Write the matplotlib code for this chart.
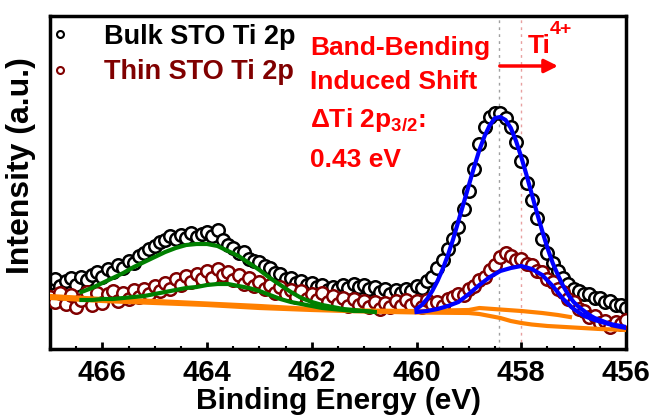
import numpy as np
import matplotlib.pyplot as plt
from matplotlib.lines import Line2D

plt.rcParams['font.family'] = ['Liberation Sans', 'DejaVu Sans']
plt.rcParams['font.weight'] = 'bold'
plt.rcParams['mathtext.fontset'] = 'custom'
plt.rcParams['mathtext.rm'] = 'Liberation Sans:bold'
plt.rcParams['mathtext.bf'] = 'Liberation Sans:bold'

# measured data, 0.1 eV steps from 467.0 down to 456.0
energy = np.round(np.arange(467.0, 455.95, -0.1), 1)
bulk = [66, 70, 63, 68, 71, 64, 72, 69, 74, 77,
        72, 80, 77, 84, 81, 88, 86, 93, 96, 100,
        103, 107, 109, 113, 110, 114, 111, 116, 112, 115,
        117, 113, 119, 109, 104, 101, 96, 97, 90, 88,
        87, 83, 81, 76, 75, 70, 71, 66, 68, 64,
        66, 62, 64, 59, 62, 60, 64, 61, 65, 62,
        64, 60, 62, 57, 60, 55, 59, 56, 60, 58,
        63, 61, 68, 72, 81, 89, 100, 110, 122, 140,
        158, 180, 205, 222, 232, 236, 236, 231, 222, 207,
        188, 166, 149, 131, 110, 96, 86, 78, 71, 65,
        60, 58, 55, 55, 51, 51, 47, 48, 44, 44,
        41]
thin = [52, 47, 56, 45, 54, 42, 49, 57, 44, 56,
        46, 55, 58, 48, 56, 50, 59, 52, 60, 55,
        63, 58, 66, 60, 70, 64, 73, 67, 75, 70,
        78, 71, 80, 74, 77, 69, 74, 65, 71, 63,
        67, 60, 64, 56, 62, 55, 59, 52, 58, 50,
        55, 49, 56, 47, 53, 45, 51, 43, 50, 44,
        48, 42, 47, 40, 46, 42, 48, 43, 49, 44,
        48, 42, 49, 45, 47, 43, 50, 52, 55, 54,
        60, 63, 69, 72, 79, 84, 92, 96, 93, 89,
        90, 85, 84, 78, 77, 70, 67, 60, 57, 50,
        47, 40, 38, 32, 33, 26, 28, 22, 27, 25,
        29]

# fitted components
fit_e1 = np.round(np.arange(466.4, 460.75, -0.2), 1)
bulk_p12 = [57, 61, 66, 71, 76, 82, 87, 92, 97, 101, 104, 105, 105, 103,
            98, 93, 86, 79, 71, 64, 57, 51, 47, 44, 42, 40, 39, 38, 37]
thin_p12 = [49, 49, 50, 50, 51, 52, 53, 55, 57, 59, 61, 62, 64, 65,
            65, 63, 61, 58, 54, 50, 47, 45, 43, 41, 40, 39, 38, 38, 37]

fit_e2 = np.round(np.arange(460.0, 455.95, -0.1), 1)
bulk_p32 = [40, 44, 50, 58, 68, 80, 94, 110, 128, 146,
            164, 182, 199, 213, 224, 231, 232, 229, 221, 208,
            192, 174, 155, 136, 118, 101, 86, 74, 63, 54,
            47, 42, 38, 34, 31, 29, 27, 25, 24, 23, 22]
fit_e3 = np.round(np.arange(460.0, 455.95, -0.2), 1)
thin_p32 = [37, 38, 40, 43, 47, 55, 64, 72, 78, 81, 83,
            80, 74, 63, 50, 40, 33, 29, 26, 23, 21]

bg_e = [467.0, 466.0, 465.0, 464.0, 463.0, 462.0, 461.0, 460.0, 459.0,
        458.8, 458.6, 458.4, 458.2, 458.0, 457.8, 457.5, 457.0, 456.5, 456.0]
bulk_bg = [51, 48, 46, 44, 41, 39, 37.5, 36.5, 36,
           35, 33, 31, 28, 26, 24.5, 23, 21.5, 20, 19]
thin_bg_e = [467.0, 466.0, 465.0, 464.0, 463.0, 462.0, 461.0, 460.0, 459.0,
             458.8, 458.4, 458.0, 457.6, 457.3, 457.07]
thin_bg = [53, 50, 48, 45.5, 43, 40, 38.5, 38, 39,
           41, 39.5, 38, 36, 34, 32]

peak_bulk = 458.43
peak_thin = 458.00

red = '#ff0000'
maroon = '#800000'

fig = plt.figure(figsize=(6.56, 4.17), dpi=100)
ax = fig.add_axes([50/656, 68/417, 576/656, 333/417])

ax.axvline(peak_bulk, color='#a0a0a0', lw=1, ls=(0, (2, 3)), zorder=1)
ax.axvline(peak_thin, color='#e8a0a0', lw=1, ls=(0, (2, 3)), zorder=1)

ax.plot(energy, bulk, ls='none', marker='o', ms=9, mfc='white', mec='black',
        mew=1.8, zorder=2)
ax.plot(energy, thin, ls='none', marker='o', ms=9, mfc='white', mec=maroon,
        mew=1.8, zorder=3)

ax.plot(bg_e, bulk_bg, color='#ff8000', lw=3, zorder=4)
ax.plot(thin_bg_e, thin_bg, color='#ff8000', lw=3, zorder=4)
ax.plot(fit_e1, bulk_p12, color='#008000', lw=3, zorder=5)
ax.plot(fit_e1, thin_p12, color='#008000', lw=3, zorder=5)
ax.plot(fit_e2, bulk_p32, color='#0000ff', lw=3, zorder=5)
ax.plot(fit_e3, thin_p32, color='#0000ff', lw=3, zorder=5)

ax.set_xlim(467, 456)
ax.set_ylim(0, 333)
ax.set_xticks([466, 464, 462, 460, 458, 456])
ax.set_xticks(np.arange(456, 467.1, 0.5), minor=True)
ax.set_yticks([])
ax.tick_params(axis='x', which='major', direction='in', length=5, width=2,
               labelsize=21, pad=7)
ax.tick_params(axis='x', which='minor', direction='in', length=2.5, width=1.5)
for s in ax.spines.values():
    s.set_linewidth(2.5)

ax.set_xlabel('Binding Energy (eV)', fontsize=21.5, fontweight='bold', labelpad=0)
ax.set_ylabel('Intensity (a.u.)', fontsize=23, fontweight='bold')
ax.yaxis.set_label_coords(-0.025, 0.55)

handles = [Line2D([], [], ls='none', marker='o', ms=5, mfc='white', mec='black', mew=1.5),
           Line2D([], [], ls='none', marker='o', ms=5, mfc='white', mec=maroon, mew=1.5)]
ax.legend(handles, ['Bulk STO Ti 2p', 'Thin STO Ti 2p'], loc='upper left',
          bbox_to_anchor=(0, 0.985), frameon=False, fontsize=19.5,
          labelcolor=['black', maroon], handlelength=0.55, handletextpad=1.35,
          labelspacing=0.35, borderaxespad=0, borderpad=0.1)

tkw = dict(color=red, fontsize=19, fontweight='bold', ha='left', va='center')
ax.text(462.03, 301, 'Band-Bending', **tkw)
ax.text(462.03, 267, 'Induced Shift', **tkw)
ax.text(462.03, 229, 'ΔTi 2p$_{3/2}$:', **tkw)
ax.text(462.03, 189, '0.43 eV', **tkw)
ax.text(457.65, 303, 'Ti', color=red, fontsize=19, fontweight='bold',
        ha='center', va='center')
ax.text(457.24, 320, '4+', color=red, fontsize=14, fontweight='bold',
        ha='center', va='center')
ax.annotate('', xy=(457.3, 283), xytext=(458.41, 283),
            arrowprops=dict(arrowstyle='-|>', color=red, lw=2.5,
                            mutation_scale=20, shrinkA=0, shrinkB=0))

fig.savefig('out.png', dpi=100)
